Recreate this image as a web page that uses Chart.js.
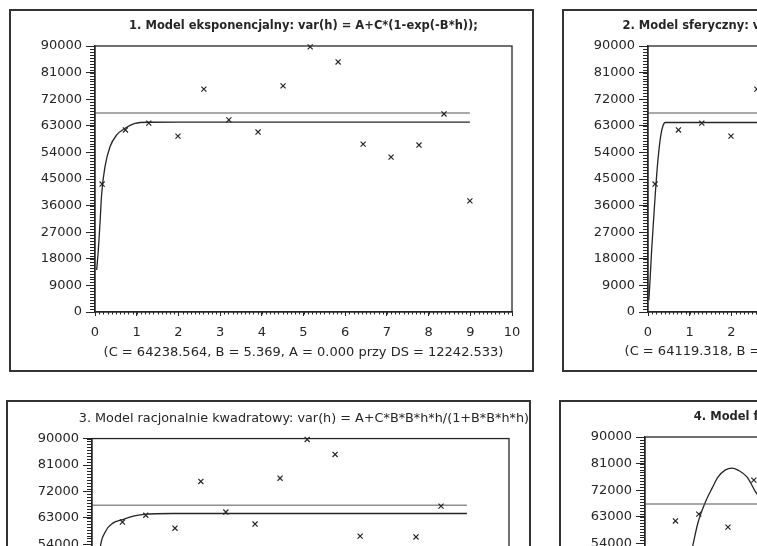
<!DOCTYPE html>
<html>

<head>
    <title>Semiwariogramy</title>
    <script src="https://cdn.jsdelivr.net/npm/chart.js"></script>
    <style>
        html, body {
            margin: 0;
            padding: 0;
            background: #fff;
        }

        body {
            width: 757px;
            height: 546px;
            overflow: hidden;
            position: relative;
        }

        .panel {
            position: absolute;
            width: 521px;
            height: 359px;
            border: 2px solid #333;
            background: #fff;
        }

        .panel canvas {
            display: block;
        }
    </style>
</head>

<body>
    <div class="panel" style="left: 9px; top: 9px;"><canvas id="chart1" width="521" height="359"></canvas></div>
    <div class="panel" style="left: 562px; top: 9px;"><canvas id="chart2" width="521" height="359"></canvas></div>
    <div class="panel" style="left: 6px; top: 400px;"><canvas id="chart3" width="521" height="359"></canvas></div>
    <div class="panel" style="left: 559px; top: 400px;"><canvas id="chart4" width="521" height="359"></canvas></div>

    <script>
        // empiryczny semiwariogram (odstep h, wartosc)
        const lagH = [0.17, 0.73, 1.29, 1.99, 2.61, 3.21, 3.91, 4.51, 5.16, 5.83, 6.43, 7.10, 7.77, 8.37, 8.99];
        const semivariance = [43300, 61600, 63900, 59500, 75400, 65000, 60900, 76500, 89700, 84600, 56800, 52400, 56500, 67000, 37600];

        // wariancja z proby (pozioma linia)
        const varLineH = [0, 8.99];
        const varLineV = [67330, 67330];

        // dopasowane modele
        const expH = [0.04, 0.08, 0.12, 0.16, 0.24, 0.36, 0.52, 0.72, 0.96, 1.28, 2.0, 8.99];
        const expV = [14200, 21000, 30100, 40000, 49200, 55900, 59900, 62150, 63800, 64200, 64240, 64240];

        const sphH = [0.02, 0.05, 0.09, 0.14, 0.18, 0.22, 0.26, 0.31, 0.36, 0.41, 8.99];
        const sphV = [4000, 11000, 21500, 32500, 41000, 48500, 54500, 60000, 63000, 64120, 64120];

        const ratH = [0.03, 0.06, 0.1, 0.14, 0.19, 0.31, 0.51, 0.71, 0.99, 1.25, 1.94, 8.99];
        const ratV = [4000, 14000, 30000, 42000, 52000, 58000, 61300, 62300, 63600, 64200, 64500, 64500];

        const wavH = [0.8, 1.0, 1.15, 1.27, 1.44, 1.61, 1.75, 1.92, 2.09, 2.23, 2.45, 2.64, 2.85];
        const wavV = [30000, 44000, 53500, 61000, 67700, 72700, 76400, 78800, 79500, 78800, 76400, 71700, 67500];

        const titles = [
            '1. Model eksponencjalny: var(h) = A+C*(1-exp(-B*h));',
            '2. Model sferyczny: var(h) = A+C*(1.5*h/B-0.5*h*h*h/(B*B*B));',
            '3. Model racjonalnie kwadratowy: var(h) = A+C*B*B*h*h/(1+B*B*h*h)',
            '4. Model falowy: var(h) = A+C*(1-sin(B*h)/(B*h));'
        ];
        const captions = [
            '(C = 64238.564, B = 5.369, A = 0.000 przy DS = 12242.533)',
            '(C = 64119.318, B = 0.412, A = 0.000 przy DS = 12238.876)',
            '(C = 64512.207, B = 6.104, A = 0.000 przy DS = 12251.340)',
            '(C = 65328.441, B = 2.150, A = 0.000 przy DS = 13817.092)'
        ];

        const INK = '#262626';
        const FONT = 'DejaVu Sans';

        function toPoints(xs, ys) {
            return xs.map((x, i) => ({ x: x, y: ys[i] }));
        }

        // ramka obszaru wykresu + drobna podzialka (linijka) na osiach
        const plotFrame = {
            id: 'plotFrame',
            afterDraw(chart) {
                const { ctx, chartArea: a, scales: { x, y } } = chart;
                ctx.save();
                ctx.strokeStyle = INK;
                ctx.lineWidth = 1.3;
                ctx.strokeRect(a.left, a.top, a.right - a.left, a.bottom - a.top);
                ctx.lineWidth = 1;
                ctx.beginPath();
                for (let v = 0; v <= 90000; v += 1000) {
                    const py = Math.round(y.getPixelForValue(v)) + 0.5;
                    ctx.moveTo(a.left - 5, py);
                    ctx.lineTo(a.left, py);
                }
                for (let k = 0; k <= 100; k++) {
                    const px = Math.round(x.getPixelForValue(k / 10)) + 0.5;
                    ctx.moveTo(px, a.bottom);
                    ctx.lineTo(px, a.bottom + 2.5);
                }
                ctx.stroke();
                ctx.restore();
            }
        };

        // p: { idx, curveH, curveV, bold, titleSize, titleFull, titleAlign, captionBelow }
        function buildPanel(canvasId, p) {
            const capFont = { family: FONT, size: 13 };
            return new Chart(document.getElementById(canvasId), {
                type: 'scatter',
                data: {
                    datasets: [{
                        data: toPoints(lagH, semivariance),
                        xAxisID: 'x',
                        yAxisID: 'y',
                        pointStyle: 'crossRot',
                        pointRadius: 3.6,
                        borderColor: INK,
                        backgroundColor: INK,
                        borderWidth: 1.2,
                        clip: 6
                    }, {
                        data: toPoints(varLineH, varLineV),
                        xAxisID: 'x',
                        yAxisID: 'y',
                        showLine: true,
                        pointRadius: 0,
                        borderColor: '#555',
                        borderWidth: 1
                    }, {
                        data: toPoints(p.curveH, p.curveV),
                        xAxisID: 'x',
                        yAxisID: 'y',
                        showLine: true,
                        pointRadius: 0,
                        borderColor: INK,
                        borderWidth: 1.3,
                        cubicInterpolationMode: 'monotone'
                    }]
                },
                options: {
                    responsive: false,
                    animation: false,
                    events: [],
                    layout: { padding: 0 },
                    plugins: {
                        legend: { display: false },
                        tooltip: { enabled: false },
                        title: {
                            display: true,
                            text: titles[p.idx],
                            fullSize: p.titleFull,
                            align: p.titleAlign,
                            color: INK,
                            font: { family: FONT, size: p.titleSize, weight: p.bold ? 'bold' : 'normal' },
                            padding: { top: 8.6, bottom: 12.6 }
                        },
                        subtitle: {
                            display: p.captionBelow,
                            position: 'bottom',
                            fullSize: true,
                            text: captions[p.idx],
                            color: INK,
                            font: capFont,
                            padding: { top: 0, bottom: 10.2 }
                        }
                    },
                    scales: {
                        x: {
                            type: 'linear',
                            min: 0,
                            max: 10,
                            afterFit: s => { s.height = p.captionBelow ? 32.2 : 58; },
                            ticks: {
                                stepSize: 1,
                                color: INK,
                                font: { family: FONT, size: 13 },
                                padding: 9,
                                maxRotation: 0,
                                callback: v => String(v)
                            },
                            grid: { drawOnChartArea: false, tickLength: 4, color: INK },
                            border: { color: INK, width: 1.3 },
                            title: {
                                display: !p.captionBelow,
                                text: captions[p.idx],
                                color: INK,
                                font: capFont,
                                padding: { top: 0, bottom: 10 }
                            }
                        },
                        y: {
                            min: 0,
                            max: 90000,
                            afterFit: s => { s.width = 84; },
                            ticks: {
                                stepSize: 9000,
                                color: INK,
                                font: { family: FONT, size: 13 },
                                padding: 4,
                                callback: v => String(v)
                            },
                            grid: { drawOnChartArea: false, tickLength: 9, color: INK },
                            border: { color: INK, width: 1.3 }
                        },
                        // pusty margines z prawej strony obszaru wykresu
                        yPad: {
                            type: 'linear',
                            axis: 'y',
                            position: 'right',
                            afterFit: s => { s.width = 20; },
                            ticks: { display: false },
                            grid: { display: false },
                            border: { display: false }
                        }
                    }
                },
                plugins: [plotFrame]
            });
        }

        buildPanel('chart1', { idx: 0, curveH: expH, curveV: expV, bold: true, titleSize: 11.5, titleFull: false, titleAlign: 'center', captionBelow: false });
        buildPanel('chart2', { idx: 1, curveH: sphH, curveV: sphV, bold: true, titleSize: 11.5, titleFull: true, titleAlign: 'center', captionBelow: true });
        buildPanel('chart3', { idx: 2, curveH: ratH, curveV: ratV, bold: false, titleSize: 12.8, titleFull: true, titleAlign: 'end', captionBelow: false });
        buildPanel('chart4', { idx: 3, curveH: wavH, curveV: wavV, bold: true, titleSize: 11.5, titleFull: false, titleAlign: 'center', captionBelow: false });
    </script>
</body>

</html>
